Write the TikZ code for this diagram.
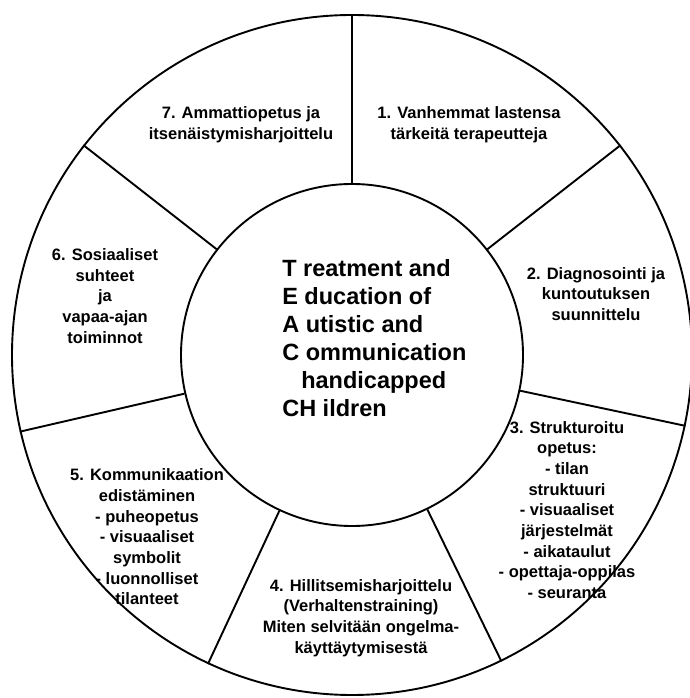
\documentclass[tikz,border=0pt]{standalone}
\usepackage{fontspec}
\setmainfont{Liberation Sans}
\begin{document}
\begin{tikzpicture}[x=1pt,y=1pt,line width=1.9pt,
  ring/.style={circle,draw,inner sep=0pt},
  sector/.style={align=center,font=\bfseries\fontsize{16.5}{20.7}\selectfont},
  hubtext/.style={align=left,font=\bfseries\fontsize{23.5}{28}\selectfont}]
\useasboundingbox (0,0) rectangle (689,698);

% Outer ring and hub
\coordinate (c) at (352,343);
\node[ring,minimum size=680pt] (rim) at (c) {};
\node[ring,minimum size=342pt] (hub) at (c) {};

% Seven dividers
\foreach \i [evaluate=\i as \a using 90-\i*360/7] in {0,...,6}
  \draw (hub.\a) -- (rim.\a);

% Centre title
\node[hubtext,anchor=west] (title) at (278,360) {T reatment and\\E ducation of\\A utistic and\\C ommunication\\\hspace*{19pt}handicapped\\CH ildren};

% Sector texts
\node[sector] (s1) at (469,573) {1. Vanhemmat lastensa\\tärkeitä terapeutteja};
\node[sector] (s2) at (596,404) {2. Diagnosointi ja\\kuntoutuksen\\suunnittelu};
\node[sector] (s3) at (567,188) {3. Strukturoitu\\opetus:\\- tilan\\struktuuri\\- visuaaliset\\järjestelmät\\- aikataulut\\- opettaja-oppilas\\- seuranta};
\node[sector] (s4) at (361,80) {4. Hillitsemisharjoittelu\\(Verhaltenstraining)\\Miten selvitään ongelma-\\käyttäytymisestä};
\node[sector] (s5) at (147,161) {5. Kommunikaation\\edistäminen\\- puheopetus\\- visuaaliset\\symbolit\\- luonnolliset\\tilanteet};
\node[sector] (s6) at (105,402) {6. Sosiaaliset\\suhteet\\ja\\vapaa-ajan\\toiminnot};
\node[sector] (s7) at (241,573) {7. Ammattiopetus ja\\itsenäistymisharjoittelu};
\end{tikzpicture}
\end{document}
